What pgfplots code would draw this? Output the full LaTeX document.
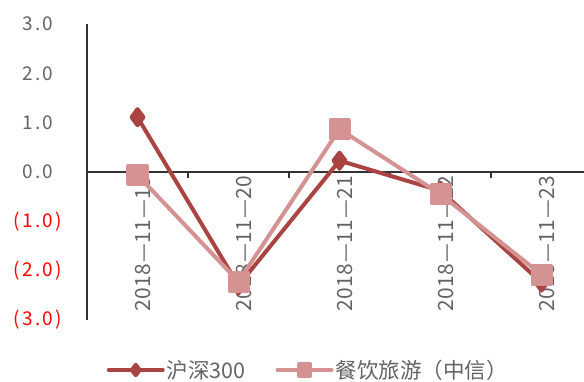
\documentclass[border=0pt]{standalone}
\usepackage{pgfplots}
\pgfplotsset{compat=1.18}
\usepackage{fontspec}
\setmainfont{Noto Sans CJK SC}
\newfontfamily\numfont[LetterSpace=12]{Noto Sans CJK SC}
\newfontfamily\xfont[LetterSpace=3]{Noto Sans CJK SC}
\definecolor{dk}{RGB}{170,68,66}
\definecolor{pk}{RGB}{212,146,146}
\definecolor{lab}{RGB}{100,100,100}
\begin{document}
\begin{tikzpicture}[x=1pt,y=1pt]
\useasboundingbox (0,0) rectangle (584,381);
\begin{axis}[at={(87pt,61pt)}, anchor=south west, scale only axis,
  width=505pt, height=296pt,
  xmin=-0.5, xmax=4.5, ymin=-3, ymax=3,
  axis x line=middle, axis y line=left,
  axis line style={-, line width=1.3pt, black!80},
  xtick={0,1,2,3,4},
  xticklabels={2018—11—19,2018—11—20,2018—11—21,2018—11—22,2018—11—23},
  minor xtick={0.5,1.5,2.5,3.5},
  major tick length=0pt, minor tick length=6pt, tick align=outside,
  minor tick style={line width=1.3pt, black!80},
  ytick={-3,-2,-1,0,1,2,3},
  yticklabels={\textcolor{red}{(3.0)},\textcolor{red}{(2.0)},\textcolor{red}{(1.0)},0.0,1.0,2.0,3.0},
  yticklabel style={anchor=center, xshift=-49pt, font=\fontsize{19}{22}\selectfont\numfont, text=lab},
  xticklabel style={rotate=90, anchor=east, font=\fontsize{21}{24}\selectfont\xfont, text=lab, yshift=-6pt},
  /pgf/number format/assume math mode=true,
  legend style={draw=none, at={(0.438,-0.169)}, anchor=center, legend columns=2,
    font=\fontsize{21.5}{24}\selectfont, text=lab,
    /tikz/every even column/.append style={column sep=28pt}},
  legend image code/.code={\draw[#1, mark repeat=2, mark phase=2, every mark/.append style={scale=0.65}] plot coordinates {(0pt,0pt)(27pt,0pt)(54pt,0pt)};},
  clip=false,
]
\addplot[dk, line width=4pt, line cap=round, line join=round, mark=diamond*, mark size=8pt, mark options={solid, fill=dk, draw=dk}]
 coordinates {(0,1.11)(1,-2.3)(2,0.23)(3,-0.38)(4,-2.24)};
\addlegendentry{沪深300}
\addplot[pk, line width=4pt, line cap=round, line join=round, mark=square*, mark size=9pt, mark options={solid, fill=pk, draw=pk}]
 coordinates {(0,-0.06)(1,-2.22)(2,0.87)(3,-0.45)(4,-2.08)};
\addlegendentry{餐饮旅游（中信）}
\end{axis}
\end{tikzpicture}
\end{document}
